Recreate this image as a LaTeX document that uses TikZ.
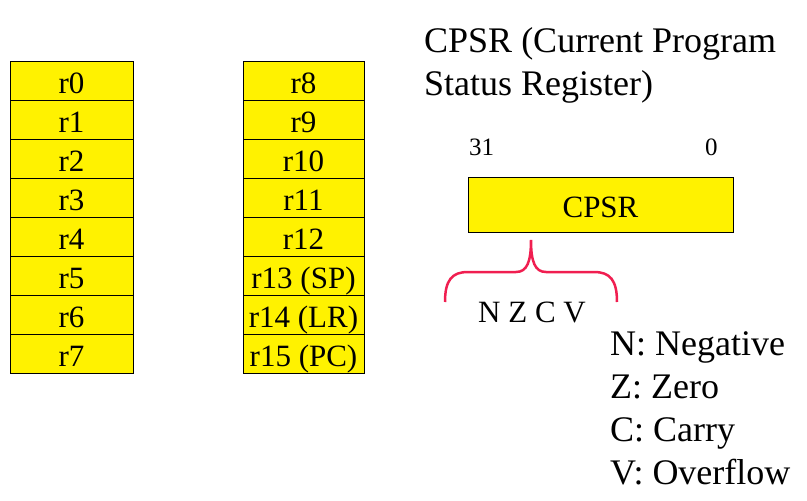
\documentclass[tikz,border=0pt]{standalone}
\usepackage{fontspec}
\setmainfont{Liberation Serif}
\definecolor{bracered}{RGB}{240,30,80}

\begin{document}
\begin{tikzpicture}[x=1pt, y=-1pt]
    \tikzstyle{every node}=[inner sep=0pt]
    \tikzstyle{reg}=[draw, line width=1pt, fill=yellow, minimum height=39pt, text height=25pt, text depth=0pt, font=\fontsize{31}{36}\selectfont]
    \tikzstyle{big}=[anchor=base west, font=\fontsize{36}{43}\selectfont]
    \useasboundingbox (0,0) rectangle (807,501);

% general purpose registers, two banks of eight
    \foreach \i in {0,...,7} \node [reg, minimum width=123pt] (r\i) at (71.5, {80.5+39*\i}) {r\i};
    \foreach \i/\lab in {8/r8, 9/r9, 10/r10, 11/r11, 12/r12, 13/r13 (SP), 14/r14 (LR), 15/r15 (PC)} \node [reg, minimum width=121pt] (r\i) at (303.5, {80.5+39*(\i-8)}) {\lab};

% status register with bit numbers and flag field
    \node [big] (title1) at (424,52) {CPSR (Current Program};
    \node [big] (title2) at (424,95) {Status Register)};
    \node [reg, minimum width=265pt, minimum height=55pt] (cpsr) at (600.5,204.5) {CPSR};
    \node [anchor=base west, font=\fontsize{25}{30}\selectfont] (msb) at (469,155) {31};
    \node [anchor=base west, font=\fontsize{25}{30}\selectfont] (lsb) at (705,155) {0};
    \draw [bracered, line width=2.5pt] (445,302) .. controls (445,280) and (452,272) .. (468,272) -- (516,272) .. controls (527,272) and (531,262) .. (531,240) .. controls (531,262) and (535,272) .. (546,272) -- (594,272) .. controls (610,272) and (617,280) .. (617,302);
    \node [anchor=base, font=\fontsize{31}{36}\selectfont] (flags) at (532,322) {N Z C V};

% flag legend
    \foreach \f/\name [count=\k from 0] in {N/Negative, Z/Zero, C/Carry, V/Overflow} \node [big] (leg\f) at (610, {355+43.3*\k}) {\f: \name};

\end{tikzpicture}
\end{document}
